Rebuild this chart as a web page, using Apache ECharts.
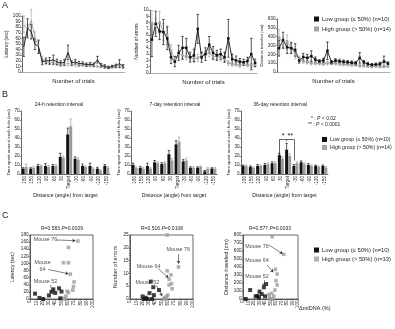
<!DOCTYPE html>
<html>
<head>
<meta charset="utf-8">
<script src="https://cdn.jsdelivr.net/npm/echarts@6/dist/echarts.min.js"></script>
<style>
  html, body { margin: 0; padding: 0; background: #fff; }
  #main { width: 395px; height: 329px; }
</style>
</head>
<body>
<div id="main"></div>
<script>
// ---- A: learning curves (28 trials) ----
const trials = [1, 2, 3, 4, 5, 6, 7, 8, 9, 10, 11, 12, 13, 14, 15, 16, 17, 18, 19, 20, 21, 22, 23, 24, 25, 26, 27, 28];
const latLow = [45, 78, 72, 50, 45, 18, 20, 20, 22, 18, 16, 17, 35, 16, 18, 15, 15, 13, 14, 13, 22, 12, 10, 8, 10, 11, 15, 10];
const latLowSem = [17, 17, 13, 10, 12, 5, 5, 6, 8, 5, 4, 5, 13, 4, 4, 4, 3, 3, 3, 3, 6, 3, 3, 2, 2, 3, 7, 3];
const latHigh = [85, 75, 92, 63, 45, 22, 18, 17, 16, 15, 13, 14, 15, 14, 13, 12, 12, 12, 11, 11, 10, 10, 9, 9, 8, 9, 9, 10];
const latHighSem = [15, 10, 20, 9, 10, 6, 4, 3, 3, 3, 3, 3, 4, 3, 3, 2, 2, 2, 2, 2, 2, 2, 2, 2, 2, 2, 2, 2];
const errLow = [5.3, 7.8, 6.6, 6.5, 5.5, 2.5, 1.8, 3.2, 4.0, 4.0, 2.5, 2.8, 7.0, 2.5, 3.0, 4.5, 3.2, 2.8, 3.0, 2.5, 5.5, 2.2, 2.0, 1.8, 1.7, 1.9, 3.0, 1.6];
const errLowSem = [2.7, 2.0, 1.3, 2.0, 1.8, 1.0, 0.8, 1.2, 1.8, 1.5, 0.8, 1.0, 2.3, 0.8, 1.0, 1.3, 1.0, 0.8, 0.8, 0.8, 3.0, 0.8, 0.7, 0.5, 0.5, 0.6, 2.5, 0.6];
const errHigh = [7.9, 7.5, 8.0, 6.5, 6.0, 3.5, 2.2, 3.0, 2.8, 2.6, 2.5, 2.2, 2.4, 2.8, 3.0, 3.2, 2.6, 2.7, 2.4, 2.2, 1.6, 1.4, 1.4, 1.2, 1.5, 1.3, 1.2, 1.3];
const errHighSem = [2.0, 1.2, 1.8, 1.4, 1.5, 1.0, 0.5, 0.6, 0.6, 0.5, 0.5, 0.5, 0.6, 0.5, 0.5, 0.6, 0.5, 0.5, 0.5, 0.4, 0.4, 0.3, 0.3, 0.3, 0.3, 0.3, 0.3, 0.3];
const distLow = [270, 360, 280, 270, 250, 130, 170, 160, 180, 140, 120, 130, 240, 110, 130, 120, 115, 110, 105, 100, 160, 110, 90, 80, 85, 90, 120, 95];
const distLowSem = [90, 90, 70, 60, 70, 30, 40, 40, 60, 30, 20, 25, 100, 20, 20, 25, 20, 20, 20, 20, 60, 20, 20, 15, 15, 20, 60, 20];
const distHigh = [390, 330, 340, 280, 200, 150, 120, 110, 100, 100, 95, 90, 100, 100, 95, 90, 85, 85, 80, 80, 70, 70, 65, 60, 65, 60, 60, 65];
const distHighSem = [90, 60, 80, 60, 50, 30, 20, 20, 20, 20, 15, 15, 20, 15, 15, 15, 15, 15, 15, 15, 15, 15, 12, 12, 12, 12, 12, 12];

// ---- B: probe trials ----
const angles = ['180', '150', '120', '90', '60', '30', 'Target', '-30', '-60', '-90', '-120', '-150'];
const b24Low = [6, 6, 9, 9, 9, 19, 44, 17, 9, 9, 6, 9];
const b24LowSem = [1, 1, 1.5, 2.5, 1.5, 4, 7, 2, 2, 3, 1.5, 1.5];
const b24High = [8, 7, 9, 8, 9, 18, 53, 16, 8, 6, 4, 7];
const b24HighSem = [3, 1, 1, 1.5, 1.5, 2, 8, 2, 1, 1, 1, 1];
const b7Low = [10, 7, 9, 13, 11, 22, 33, 14, 7, 7, 3, 6];
const b7LowSem = [2, 1.5, 3, 2, 1.5, 4, 4, 2, 1, 1, 1, 1];
const b7High = [7, 6, 6, 12, 12, 15, 36, 15, 7, 8, 6, 6];
const b7HighSem = [1, 1, 1, 1.5, 1.5, 2, 5, 2.5, 1, 1, 1.5, 1];
const b36Low = [9, 8, 9, 10, 12, 21, 27, 9, 13, 10, 9, 9];
const b36LowSem = [1, 1, 1.5, 1.5, 1.5, 2, 7, 1.5, 1.5, 1.5, 1, 1];
const b36High = [9, 7, 9, 11, 12, 17, 20, 12, 11, 9, 8, 7];
const b36HighSem = [1, 1, 1, 1.5, 1.5, 2, 2.5, 1.5, 1.5, 1, 1, 1];

// ---- C: correlation with mtDNA ([%, value]) ----
const c1Low = [[8, 15], [15, 3], [21, 0], [30, 10], [34, 20], [37, 27], [40, 17], [46, 30], [50, 21], [48, 2]];
const c1High = [[76, 163], [61, 145], [53, 102], [61, 102], [64, 70], [70, 48], [69, 35], [68, 25], [61, 18], [57, 8], [53, 2], [55, 0], [59, 22]];
const c2Low = [[20, 1], [25, 0.5], [31, 2.3], [33, 6.8], [37, 4.6], [38, 1.5], [22, 0], [46, 3.5], [28, 0], [35, 0]];
const c2High = [[59, 25], [77, 12.5], [59, 11], [65, 9.4], [62, 7.7], [66, 6], [67, 4], [62, 5.5], [53, 0], [57, 0], [58, 1], [60, 1.5], [55, 0.5]];
const c3Low = [[5, 0], [13, 112], [23, 34], [26, 37], [29, 21], [30, 92], [34, 62], [38, 146], [40, 34], [42, 187]];
const c3High = [[53, 779], [74, 559], [59, 371], [62, 312], [60, 229], [62, 175], [52, 71], [48, 21], [53, 0], [56, 37], [58, 112], [47, 55], [50, 0]];

// mouse call-outs (text anchor, arrow from -> to), in data units
const c1Notes = [{ name: 'Mouse 76', value: [5, 166] }, { name: 'Mouse\n64', value: [20, 92], label: { position: 'inside', align: 'center' } }, { name: 'Mouse 52', value: [5, 48] }];
const c1Arrows = [[[42, 166], [72, 164]], [[29, 83], [61, 71]], [[32, 39], [37, 20]]];
const c2Notes = [{ name: 'Mouse 76', value: [57, 19.5] }, { name: 'Mouse 64', value: [10, 12.5] }, { name: 'Mouse 52', value: [8, 6.6] }];
const c2Arrows = [[[77, 17.5], [77, 13.8]], [[44, 12], [61, 8.3]], [[42, 5.3], [51, 1.2]]];
const c3Notes = [{ name: 'Mouse 76', value: [3, 662] }, { name: 'Mouse 64', value: [3, 487] }, { name: 'Mouse 52', value: [3, 279] }];
const c3Arrows = [[[47, 675], [72, 565]], [[44, 425], [55, 335]], [[38, 237], [38, 160]]];

const lowName = 'Low group (≤ 50%) (n=10)';
const highName = 'High group (> 50%) (n=14)';
const highNameC = 'High group (> 50%) (n=13)';

const FONT = 'Liberation Sans';
const BLACK = '#111';
const GRAY = '#a3a3a3';

const chart = echarts.init(document.getElementById('main'));

function valAxis(grid, min, max, interval, name, gap, fs) {
  return {
    type: 'value', gridIndex: grid, min: min, max: max, interval: interval,
    name: name, nameLocation: 'middle', nameGap: gap,
    nameTextStyle: { fontSize: fs || 5, color: '#222', fontFamily: FONT },
    axisLine: { show: true, lineStyle: { color: '#444', width: 0.8 } },
    axisTick: { show: true, length: 1.5, lineStyle: { color: '#444', width: 0.6 } },
    axisLabel: { fontSize: 4.6, color: '#222', margin: 1.5, fontFamily: FONT },
    splitLine: { show: false }
  };
}

function errorBars(offset, upOnly, color) {
  return function (params, api) {
    const i = api.value(0), v = api.value(1), e = api.value(2);
    const top = api.coord([i, v + e]);
    const bot = api.coord([i, upOnly ? v : v - e]);
    const x = top[0] + offset;
    const st = { stroke: color, lineWidth: 0.7 };
    const kids = [
      { type: 'line', shape: { x1: x, y1: bot[1], x2: x, y2: top[1] }, style: st },
      { type: 'line', shape: { x1: x - 1.2, y1: top[1], x2: x + 1.2, y2: top[1] }, style: st }
    ];
    if (!upOnly) kids.push({ type: 'line', shape: { x1: x - 1.2, y1: bot[1], x2: x + 1.2, y2: bot[1] }, style: st });
    return { type: 'group', children: kids };
  };
}

function errSeries(idx, vals, sems, offset, upOnly, color, name) {
  return {
    type: 'custom', name: name, xAxisIndex: idx, yAxisIndex: idx, clip: false, silent: true,
    renderItem: errorBars(offset, upOnly, color),
    encode: { x: 0, y: 1 },
    data: vals.map((v, i) => [i, v, sems[i]])
  };
}

const grids = [
  { left: 22, top: 16, width: 103, height: 56 },
  { left: 150, top: 10, width: 107, height: 63 },
  { left: 277, top: 19, width: 113, height: 53 },
  { left: 21, top: 111, width: 89, height: 63 },
  { left: 131, top: 111, width: 86, height: 63 },
  { left: 241, top: 111, width: 87, height: 63 },
  { left: 30, top: 235, width: 63, height: 64, show: true, borderColor: '#444', borderWidth: 0.8 },
  { left: 130, top: 235, width: 63, height: 64, show: true, borderColor: '#444', borderWidth: 0.8 },
  { left: 243, top: 235, width: 55, height: 64, show: true, borderColor: '#444', borderWidth: 0.8 }
];

const xAxes = [];
for (let g = 0; g < 3; g++) {
  xAxes.push({
    type: 'category', gridIndex: g, data: trials, boundaryGap: true,
    name: 'Number of trials', nameLocation: 'middle', nameGap: 6,
    nameTextStyle: { fontSize: 6, color: '#222', fontFamily: FONT },
    axisLine: { lineStyle: { color: '#999', width: 0.8 } },
    axisTick: { show: false }, axisLabel: { show: false }
  });
}
for (let g = 3; g < 6; g++) {
  xAxes.push({
    type: 'category', gridIndex: g, data: angles,
    name: 'Distance (angle) from target', nameLocation: 'middle', nameGap: 13,
    nameTextStyle: { fontSize: 5.2, color: '#222', fontFamily: FONT },
    axisLine: { lineStyle: { color: '#444', width: 0.8 } },
    axisTick: { show: false },
    axisLabel: { rotate: 90, interval: 0, fontSize: 4.6, color: '#222', margin: 2, fontFamily: FONT }
  });
}
for (let g = 6; g < 9; g++) {
  const ax = valAxis(g, 0, 100, 10, '', 0);
  ax.axisLabel.rotate = 90;
  xAxes.push(ax);
}

const yAxes = [
  valAxis(0, 0, 100, 10, 'Latency (sec)', 11.5, 4.5),
  valAxis(1, 0, 10, 1, 'Number of errors', 6, 4.8),
  valAxis(2, 0, 600, 100, 'Distance traveled (cm)', 7, 4.2),
  valAxis(3, 0, 70, 10, 'Time spent around each hole (sec)', 10.5, 4.3),
  valAxis(4, 0, 70, 10, 'Time spent around each hole (sec)', 9, 4.3),
  valAxis(5, 0, 70, 10, 'Time spent around each hole (sec)', 9, 4.3),
  valAxis(6, 0, 180, 20, 'Latency (sec)', 15, 5),
  valAxis(7, 0, 25, 5, 'Number of errors', 12, 5.6),
  valAxis(8, 0, 800, 100, 'Distance traveled (cm)', 8, 5.6)
];
yAxes[7].minorTick = { show: true, splitNumber: 5, length: 1, lineStyle: { color: '#444', width: 0.5 } };

const series = [];

// A
[[latLow, latLowSem, latHigh, latHighSem], [errLow, errLowSem, errHigh, errHighSem], [distLow, distLowSem, distHigh, distHighSem]].forEach((d, g) => {
  series.push({
    type: 'line', name: highName, xAxisIndex: g, yAxisIndex: g, data: d[2],
    symbol: 'rect', symbolSize: 2.5, lineStyle: { color: GRAY, width: 0.9 }, itemStyle: { color: GRAY }
  });
  series.push(errSeries(g, d[2], d[3], 0, false, GRAY, 'eh' + g));
  series.push({
    type: 'line', name: lowName, xAxisIndex: g, yAxisIndex: g, data: d[0],
    symbol: 'rect', symbolSize: 2.5, lineStyle: { color: BLACK, width: 0.9 }, itemStyle: { color: BLACK }
  });
  series.push(errSeries(g, d[0], d[1], 0, false, BLACK, 'el' + g));
});

// B
[[b24Low, b24LowSem, b24High, b24HighSem], [b7Low, b7LowSem, b7High, b7HighSem], [b36Low, b36LowSem, b36High, b36HighSem]].forEach((d, k) => {
  const g = k + 3;
  const low = {
    type: 'bar', name: lowName, xAxisIndex: g, yAxisIndex: g, data: d[0],
    barWidth: 3, barGap: '0%', itemStyle: { color: BLACK }
  };
  if (k === 2) {
    // significance bracket over 30 / Target / -30
    const a = angles.indexOf('30'), t = angles.indexOf('Target'), b = angles.indexOf('-30');
    const top = 38.5;
    const star = s => ({ show: true, formatter: s, position: 'insideMiddleTop', distance: 0, fontSize: 7, color: '#111' });
    low.markLine = {
      silent: true, symbol: 'none', animation: false,
      lineStyle: { color: '#222', width: 0.7, type: 'solid' },
      label: { show: false },
      data: [
        [{ coord: [a, 21] }, { coord: [a, top] }],
        [{ coord: [b, 15] }, { coord: [b, top] }],
        [{ coord: [t, 36] }, { coord: [t, top] }],
        [{ coord: [a, top], label: star('*') }, { coord: [t, top] }],
        [{ coord: [t, top], label: star('**') }, { coord: [b, top] }]
      ]
    };
  }
  series.push(low);
  series.push({
    type: 'bar', name: highName, xAxisIndex: g, yAxisIndex: g, data: d[2],
    barWidth: 3, barGap: '0%', itemStyle: { color: '#9b9b9b' }
  });
  series.push(errSeries(g, d[0], d[1], -1.5, true, BLACK, 'bl' + g));
  series.push(errSeries(g, d[2], d[3], 1.5, true, '#9b9b9b', 'bh' + g));
});

// C
[[c1Low, c1High, c1Notes, c1Arrows], [c2Low, c2High, c2Notes, c2Arrows], [c3Low, c3High, c3Notes, c3Arrows]].forEach((d, k) => {
  const g = k + 6;
  series.push({
    type: 'scatter', name: highNameC, xAxisIndex: g, yAxisIndex: g, data: d[1],
    symbol: 'rect', symbolSize: 3.6, itemStyle: { color: '#9c9c9c' }
  });
  series.push({
    type: 'scatter', name: lowName, xAxisIndex: g, yAxisIndex: g, data: d[0],
    symbol: 'rect', symbolSize: 4, itemStyle: { color: BLACK }
  });
  series.push({
    type: 'scatter', name: 'notes' + k, xAxisIndex: g, yAxisIndex: g, data: d[2],
    symbolSize: 1, itemStyle: { color: 'rgba(0,0,0,0)' }, silent: true,
    label: {
      show: true, formatter: '{b}', position: 'right', distance: 0,
      fontSize: 5.4, color: '#222', fontFamily: FONT, align: 'left', lineHeight: 7
    },
    markLine: {
      silent: true, animation: false, symbol: ['none', 'arrow'], symbolSize: 3,
      lineStyle: { color: '#333', width: 0.6, type: 'solid' },
      label: { show: false },
      data: d[3].map(p => [{ coord: p[0] }, { coord: p[1] }])
    }
  });
});

function txt(x, y, text, size, align, extra) {
  return {
    type: 'text', x: x, y: y, silent: true,
    style: Object.assign({ text: text, fontSize: size, fontFamily: FONT, fill: '#222', align: align || 'left', verticalAlign: 'middle' }, extra || {})
  };
}
const rich = { n: { fontSize: 5, fontFamily: FONT, fill: '#222' }, i: { fontSize: 5, fontFamily: FONT, fontStyle: 'italic', fill: '#222' } };

const option = {
  animation: false,
  textStyle: { fontFamily: FONT },
  grid: grids,
  xAxis: xAxes,
  yAxis: yAxes,
  legend: [
    {
      data: [lowName, highName], left: 314, top: 16, orient: 'vertical', padding: 0,
      itemWidth: 5, itemHeight: 5, itemGap: 4, icon: 'rect', selectedMode: false,
      textStyle: { fontSize: 5.8, color: '#222', padding: [0, 0, 0, -2] }
    },
    {
      data: [lowName, highName], left: 322, top: 137, orient: 'vertical', padding: 0,
      itemWidth: 5, itemHeight: 5, itemGap: 3, icon: 'rect', selectedMode: false,
      textStyle: { fontSize: 5.2, color: '#222', padding: [0, 0, 0, -2] }
    },
    {
      data: [lowName, highNameC], left: 314, top: 247, orient: 'vertical', padding: 0,
      itemWidth: 5, itemHeight: 5, itemGap: 3, icon: 'rect', selectedMode: false,
      textStyle: { fontSize: 5.8, color: '#222', padding: [0, 0, 0, -2] }
    }
  ],
  graphic: [
    txt(2, 6, 'A', 9),
    txt(2, 95, 'B', 9),
    txt(2, 216, 'C', 9),
    txt(59, 105, '24-h retention interval', 5, 'center'),
    txt(175, 105, '7-day retention interval', 5, 'center'),
    txt(280, 105, '36-day retention interval', 5, 'center'),
    txt(311, 119, '{n|* : }{i|P}{n| < 0.02}', 5, 'left', { rich: rich }),
    txt(308, 124.5, '{n|** : }{i|P}{n| < 0.0001}', 5, 'left', { rich: rich }),
    txt(62, 229, '{n|R=0.583 }{i|P}{n|=0.0029}', 5, 'center', { rich: rich }),
    txt(162, 229, '{n|R=0.516 }{i|P}{n|=0.0108}', 5, 'center', { rich: rich }),
    txt(270, 229, '{n|R=0.577 }{i|P}{n|=0.0033}', 5, 'center', { rich: rich }),
    txt(299, 308, 'ΔmtDNA (%)', 5.5, 'left')
  ],
  series: series
};

chart.setOption(option);
</script>
</body>
</html>
